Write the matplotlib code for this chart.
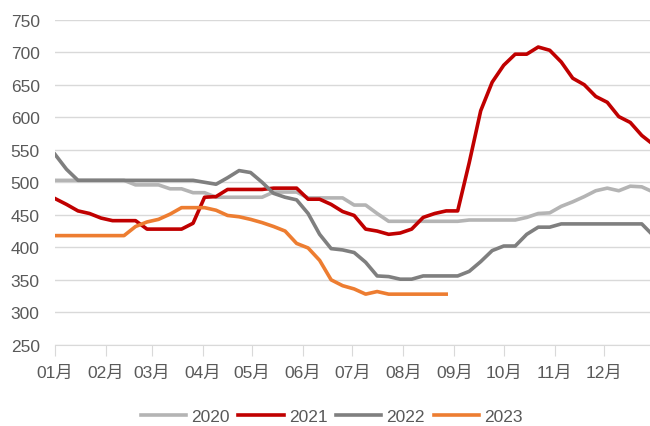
import numpy as np
import matplotlib
matplotlib.use("Agg")
import matplotlib.pyplot as plt

plt.rcParams['font.family'] = ['Liberation Sans', 'Noto Sans CJK SC', 'DejaVu Sans']

# weekly values, week 0 = 1 Jan
s2020 = [503, 503, 503, 503, 503, 503, 503, 496, 496, 496, 490, 490, 484, 484,
         477, 477, 477, 477, 477, 485, 485, 485, 476, 476, 476, 476, 465, 465,
         452, 440, 440, 440, 440, 440, 440, 440, 442, 442, 442, 442, 442, 446,
         452, 453, 463, 470, 478, 487, 491, 487, 494, 493, 485]
s2021 = [475, 466, 456, 452, 445, 441, 441, 441, 428, 428, 428, 428, 437, 477,
         478, 489, 489, 489, 489, 491, 491, 491, 474, 474, 466, 455, 449, 428,
         425, 420, 422, 428, 446, 452, 456, 456, 530, 610, 654, 680, 697, 697,
         708, 703, 685, 660, 650, 632, 623, 601, 592, 572, 558]
s2022 = [543, 520, 503, 503, 503, 503, 503, 503, 503, 503, 503, 503, 503, 500,
         497, 507, 518, 515, 500, 483, 477, 473, 452, 420, 398, 396, 392, 377,
         356, 355, 351, 351, 356, 356, 356, 356, 363, 378, 395, 402, 402, 420,
         431, 431, 436, 436, 436, 436, 436, 436, 436, 436, 418]
s2023 = [418, 418, 418, 418, 418, 418, 418, 432, 439, 443, 451, 461, 461, 461,
         457, 449, 447, 443, 438, 432, 425, 406, 399, 380, 350, 341, 336, 328,
         332, 328, 328, 328, 328, 328, 328]

years = ["2020", "2021", "2022", "2023"]
colors = ["#b4b4b4", "#c00000", "#7f7f7f", "#ed7d31"]
month_starts = [0, 31, 59, 90, 120, 151, 181, 212, 243, 273, 304, 334]
month_labels = ["01月", "02月", "03月", "04月", "05月", "06月",
                "07月", "08月", "09月", "10月", "11月", "12月"]

fig = plt.figure(figsize=(6.5, 4.27), dpi=100)
ax = fig.add_axes([0.0846, 0.19, 0.9154, 0.7615])

for name, vals, c in zip(years, [s2020, s2021, s2022, s2023], colors):
    days = np.arange(len(vals)) * 7
    ax.plot(days, vals, color=c, lw=2.6, label=name)

ax.set_xlim(0, 362)
ax.set_ylim(250, 750)
ax.set_yticks(np.arange(250, 751, 50))
ax.set_xticks(month_starts)
ax.set_xticklabels(month_labels)
ax.grid(axis="y", color="#d9d9d9", lw=1)
ax.set_axisbelow(True)
for s in ["left", "top", "right"]:
    ax.spines[s].set_visible(False)
ax.spines["bottom"].set_color("#d9d9d9")
ax.tick_params(axis="y", length=0, pad=11, labelsize=12.5, labelcolor="#595959")
ax.tick_params(axis="x", length=8, color="#d9d9d9", pad=6, labelsize=12.5,
               labelcolor="#595959")

ax.legend(loc="upper center", bbox_to_anchor=(0.465, -0.15), ncol=4, frameon=False,
          fontsize=12.5, labelcolor="#595959", handlelength=2.6, handletextpad=0.3,
          columnspacing=0.5)

fig.savefig("out.png", dpi=100)
